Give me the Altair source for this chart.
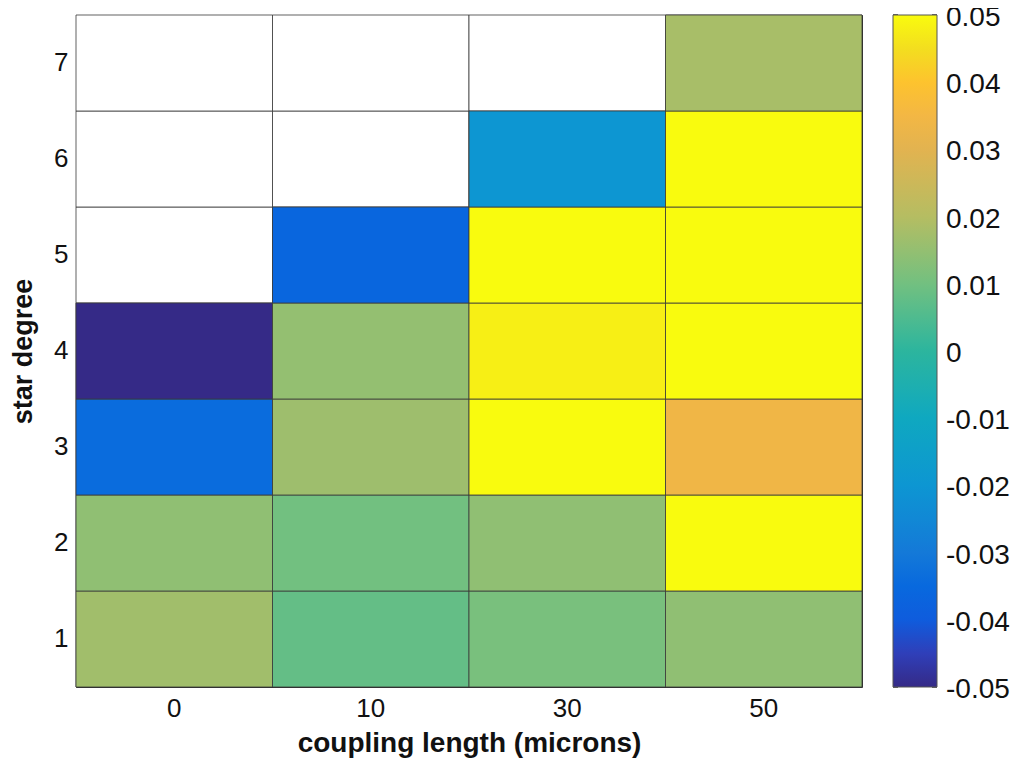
import altair as alt

# ---- data ----
lengths = ["0", "10", "30", "50"]
degrees = [1, 2, 3, 4, 5, 6, 7]
# values per coupling length, from star degree 1 to 7 (None = no data / white)
vals_0 = [0.017, 0.0145, -0.034, -0.05, None, None, None]
vals_10 = [0.008, 0.010, 0.0165, 0.015, -0.036, None, None]
vals_30 = [0.011, 0.0145, 0.05, 0.048, 0.05, -0.020, None]
vals_50 = [0.0145, 0.05, 0.034, 0.05, 0.05, 0.05, 0.018]

# parula-like colour stops (value -> colour)
stop_values = [-0.05, -0.045, -0.04, -0.035, -0.03, -0.02, -0.01, 0.0,
               0.01, 0.02, 0.03, 0.035, 0.04, 0.045, 0.05]
stop_colors = ["#352a87", "#2f3fb9", "#0f5cdd", "#0869de", "#1479d8", "#0d96d2",
               "#0fa8c0", "#2cb59e", "#72c080", "#b5bd62", "#e2b350", "#f3b744",
               "#fdc32e", "#f3de1f", "#f9fb0e"]
colorbar_ticks = [-0.05, -0.04, -0.03, -0.02, -0.01, 0, 0.01, 0.02, 0.03, 0.04, 0.05]
colorbar_labels = ["-0.05", "-0.04", "-0.03", "-0.02", "-0.01", "0",
                   "0.01", "0.02", "0.03", "0.04", "0.05"]

columns = {"0": vals_0, "10": vals_10, "30": vals_30, "50": vals_50}
rows = []
for L in lengths:
    for d, v in zip(degrees, columns[L]):
        rows.append({"length": L, "degree": d, "value": v})
cb_rows = [{"v": v, "lab": s} for v, s in zip(colorbar_ticks, colorbar_labels)]

FONT = "Liberation Sans"
CB_X = 817      # colorbar left edge, relative to plot origin
CB_W = 44       # colorbar thickness

x_enc = alt.X("length:O", sort=lengths,
              scale=alt.Scale(paddingInner=0, paddingOuter=0),
              axis=alt.Axis(title="coupling length (microns)", labelAngle=0,
                            labelFontSize=26, labelPadding=8, ticks=False,
                            domain=False, titleFontSize=28, titleFontWeight="bold",
                            titlePadding=8, labelColor="#111", titleColor="#111"))
y_enc = alt.Y("degree:O", sort="descending",
              scale=alt.Scale(paddingInner=0, paddingOuter=0),
              axis=alt.Axis(title="star degree", labelFontSize=26, labelPadding=8,
                            ticks=False, domain=False, titleFontSize=27,
                            titleFontWeight="bold", titlePadding=16,
                            labelColor="#111", titleColor="#111"))

base = alt.Chart(alt.Data(values=rows))

white = base.mark_rect(fill="white", stroke="#3a3a3a", strokeWidth=1,
                       strokeOpacity=0.8).encode(x=x_enc, y=y_enc)

colored = base.transform_filter("isValid(datum.value)").mark_rect(
    stroke="#3a3a3a", strokeWidth=1, strokeOpacity=0.8
).encode(
    x=x_enc,
    y=y_enc,
    color=alt.Color(
        "value:Q",
        scale=alt.Scale(domain=stop_values, range=stop_colors, interpolate="rgb",
                        clamp=True),
        legend=alt.Legend(
            orient="none", legendX=CB_X, legendY=0, title=None,
            direction="vertical", gradientLength=672, gradientThickness=CB_W,
            gradientStrokeColor="#555", gradientStrokeWidth=1,
            values=colorbar_ticks, labelExpr="''", labelFontSize=1,
            padding=0,
        ),
    ),
)

heat = alt.layer(white, colored)

cb = alt.Chart(alt.Data(values=cb_rows))
cb_y = alt.Y("v:Q", scale=alt.Scale(domain=[-0.05, 0.05], nice=False, zero=False),
             axis=None)

cb_labels = cb.mark_text(align="left", baseline="middle", fontSize=28, dy=3,
                         color="#111", font=FONT).encode(
    y=cb_y, x=alt.value(CB_X + CB_W + 9), text="lab:N")

cb_ticks_l = cb.mark_rule(color="#333", strokeWidth=1.5).encode(
    y=cb_y, x=alt.value(CB_X), x2=alt.value(CB_X + 5))
cb_ticks_r = cb.mark_rule(color="#333", strokeWidth=1.5).encode(
    y=cb_y, x=alt.value(CB_X + CB_W - 5), x2=alt.value(CB_X + CB_W))

cbar = alt.layer(cb_ticks_l, cb_ticks_r, cb_labels)

chart = alt.layer(heat, cbar).resolve_scale(
    y="independent"
).properties(
    width=786, height=672,
    autosize=alt.AutoSizeParams(type="none"),
    padding={"left": 68, "top": 7, "right": 150, "bottom": 84},
).configure(font=FONT).configure_view(stroke="#262626", strokeWidth=1)

chart.save("out.html", embed_options={"renderer": "svg", "actions": False})
